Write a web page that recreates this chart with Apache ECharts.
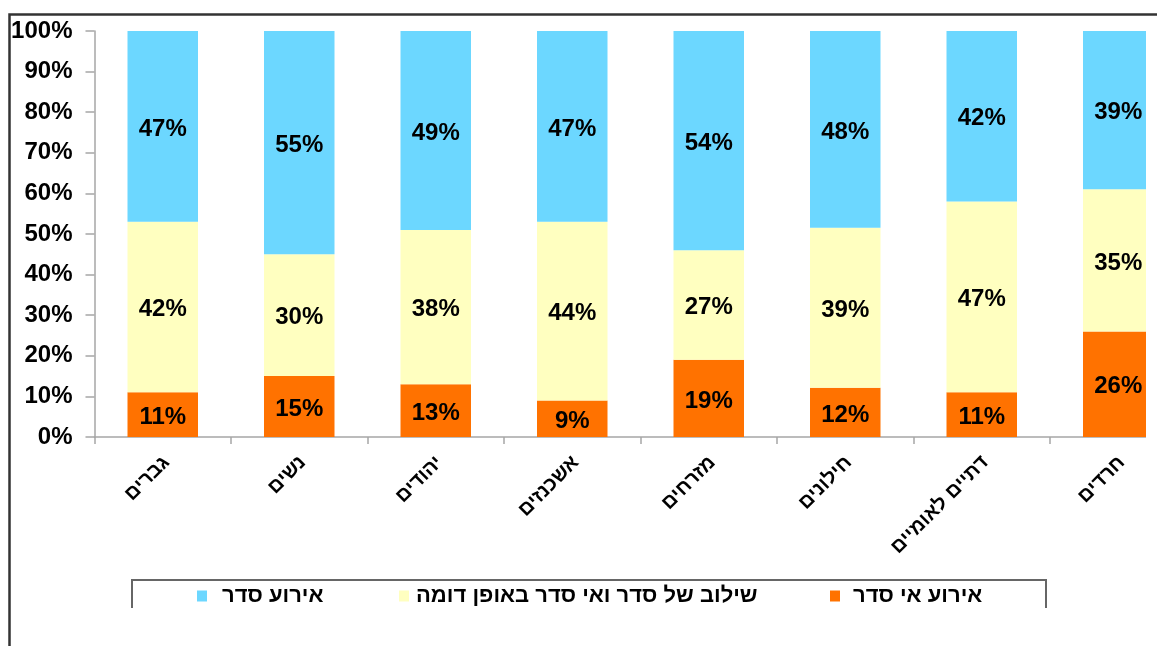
<!DOCTYPE html>
<html>
<head>
<meta charset="utf-8">
<script src="https://cdn.jsdelivr.net/npm/echarts@6/dist/echarts.min.js"></script>
<style>
  * { margin: 0; padding: 0; }
  body { background: #fff; }
  #chart { width: 1157px; height: 646px; }
</style>
</head>
<body>
<div id="chart"></div>
<script>
  // קבוצות (ציר X)
  var categories = ['גברים', 'נשים', 'יהודים', 'אשכנזים', 'מזרחים', 'חילונים', 'דתיים לאומיים', 'חרדים'];

  // ערכים באחוזים כפי שמופיעים בתרשים
  var disorder = [11, 15, 13, 9, 19, 12, 11, 26];     // אירוע אי סדר
  var mixed = [42, 30, 38, 44, 27, 39, 47, 35];       // שילוב של סדר ואי סדר באופן דומה
  var order = [47, 55, 49, 47, 54, 48, 42, 39];       // אירוע סדר

  var yTicks = [0, 10, 20, 30, 40, 50, 60, 70, 80, 90, 100];

  var seriesNames = ['אירוע אי סדר', 'שילוב של סדר ואי סדר באופן דומה', 'אירוע סדר'];
  var colors = ['#ff7200', '#ffffc0', '#6cd7ff'];

  var font = '"Liberation Sans", Arial, sans-serif';

  // 100% stacked: normalize each column to its total
  var totals = categories.map(function (c, i) { return disorder[i] + mixed[i] + order[i]; });
  function share(arr) {
    return arr.map(function (v, i) { return { value: v / totals[i] * 100, raw: v }; });
  }

  function makeSeries(name, arr, color) {
    return {
      name: name,
      type: 'bar',
      stack: 'total',
      barWidth: 70.5,
      itemStyle: { color: color },
      label: {
        show: true,
        position: 'inside',
        offset: [0, 2.5],
        color: '#000',
        fontFamily: font,
        fontWeight: 'bold',
        fontSize: 24,
        formatter: function (p) { return p.data.raw + '%'; }
      },
      data: share(arr)
    };
  }

  function legendFor(name, left, gap) {
    return {
      data: [name],
      left: left,
      top: 585,
      padding: 0,
      itemWidth: 10,
      itemHeight: 11,
      selectedMode: false,
      icon: 'rect',
      textStyle: {
        color: '#000',
        fontFamily: font,
        fontWeight: 'bold',
        fontSize: 22,
        padding: [0, 0, 0, gap]
      }
    };
  }

  var chart = echarts.init(document.getElementById('chart'));
  chart.setOption({
    animation: false,
    grid: {
      left: 94.5,
      top: 31,
      width: 1092,
      height: 406,
      outerBoundsMode: 'none'
    },
    legend: [
      legendFor(seriesNames[2], 197, 10),
      legendFor(seriesNames[1], 399, 2),
      legendFor(seriesNames[0], 830, 8)
    ],
    xAxis: {
      type: 'category',
      data: categories,
      axisLine: { lineStyle: { color: '#a6a6a6', width: 1.5 } },
      axisTick: { show: true, length: 7, lineStyle: { color: '#a6a6a6', width: 1.5 } },
      axisLabel: {
        interval: 0,
        rotate: 45,
        margin: 26,
        padding: [0, -5, 0, 0],
        color: '#000',
        fontFamily: font,
        fontWeight: 'bold',
        fontSize: 20
      }
    },
    yAxis: {
      type: 'value',
      min: 0,
      max: 100,
      interval: 10,
      splitLine: { show: false },
      axisLine: { show: true, lineStyle: { color: '#a6a6a6', width: 1.5 } },
      axisTick: { show: true, inside: false, length: 9, lineStyle: { color: '#a6a6a6', width: 1.5 } },
      axisLabel: {
        margin: 22,
        color: '#000',
        fontFamily: font,
        fontWeight: 'bold',
        fontSize: 24,
        formatter: function (v) { return yTicks.indexOf(v) >= 0 ? v + '%' : ''; }
      }
    },
    graphic: [
      // chart area border (extends past the crop)
      {
        type: 'rect',
        z: 100,
        shape: { x: 9.5, y: 14.5, width: 1300, height: 800 },
        style: { fill: null, stroke: '#333', lineWidth: 2.5 }
      },
      // cropped-off right edge of the plot
      {
        type: 'rect',
        z: 100,
        shape: { x: 1146, y: 17, width: 30, height: 540 },
        style: { fill: '#fff' }
      },
      // legend frame (bottom is cut off)
      {
        type: 'polyline',
        z: 100,
        shape: { points: [[132, 608], [132, 580], [1046, 580], [1046, 608]] },
        style: { fill: null, stroke: '#666', lineWidth: 2 }
      }
    ],
    series: [
      makeSeries(seriesNames[0], disorder, colors[0]),
      makeSeries(seriesNames[1], mixed, colors[1]),
      makeSeries(seriesNames[2], order, colors[2])
    ]
  });
</script>
</body>
</html>
